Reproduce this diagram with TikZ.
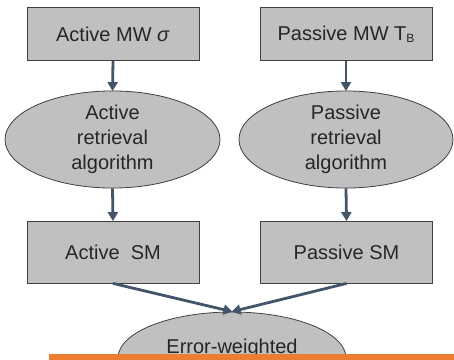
\documentclass[tikz,border=0pt]{standalone}
\usepackage{fontspec}
\setmainfont{Liberation Sans}
\usetikzlibrary{shapes.geometric,arrows.meta}
\definecolor{boxfill}{HTML}{C0C0C0}
\definecolor{boxline}{HTML}{404040}
\definecolor{flow}{HTML}{44546A}
\definecolor{bar}{HTML}{ED7D31}
\definecolor{txt}{HTML}{262626}
\tikzset{
  stage/.style={draw=boxline, line width=0.8pt, fill=boxfill, rectangle,
    minimum width=172pt, minimum height=53pt, inner sep=0pt,
    text=txt, font=\fontsize{20}{25}\selectfont},
  algo/.style={draw=boxline, line width=0.8pt, fill=boxfill, ellipse,
    inner sep=0pt, text=txt, align=center,
    font=\fontsize{20}{25}\selectfont},
  feed/.style={draw=flow, line width=2.8pt,
    -{Triangle[length=9pt,width=10pt]}, shorten >=-0.5pt}
}
\begin{document}
\begin{tikzpicture}[x=1pt,y=-1pt]
  \useasboundingbox (0,0) rectangle (454,359);
  \clip (0,0) rectangle (454,359);

  % microwave inputs
  \node[stage] (amw) at (113,34) {Active MW \textit{σ}};
  \node[stage] (pmw) at (346,34) {Passive MW T\raisebox{-2pt}{\fontsize{12}{12}\selectfont B}};

  % retrieval algorithms
  \node[algo, minimum width=215pt, minimum height=93pt] (aret) at (112.5,139.5)
    {Active\\retrieval\\algorithm};
  \node[algo, minimum width=214pt, minimum height=93pt] (pret) at (346,139.5)
    {Passive\\retrieval\\algorithm};

  % soil moisture products
  \node[stage, minimum height=62pt] (asm) at (113,252) {Active\ \ SM};
  \node[stage, minimum height=62pt] (psm) at (346.5,252) {Passive SM};

  % merging step
  \node[draw=boxline, line width=0.8pt, fill=boxfill, ellipse, inner sep=0pt,
        minimum width=228pt, minimum height=92pt] (merge) at (232,358) {};
  \node[text=txt, font=\fontsize{20}{25}\selectfont, inner sep=0pt]
    (mergetxt) at (232,348) {Error-weighted};

  % connectors
  \draw[feed] (amw.south) -- (aret.north);
  \draw[feed] (pmw.south) -- (pret.north);
  \draw[feed] (aret.south) -- (asm.north);
  \draw[feed] (pret.south) -- (psm.north);
  \draw[feed] (asm.south) -- (merge.north);
  \draw[feed] (psm.south) -- (merge.north);

  % orange band along the bottom
  \fill[bar] (49,354) rectangle (460,365);
\end{tikzpicture}
\end{document}
